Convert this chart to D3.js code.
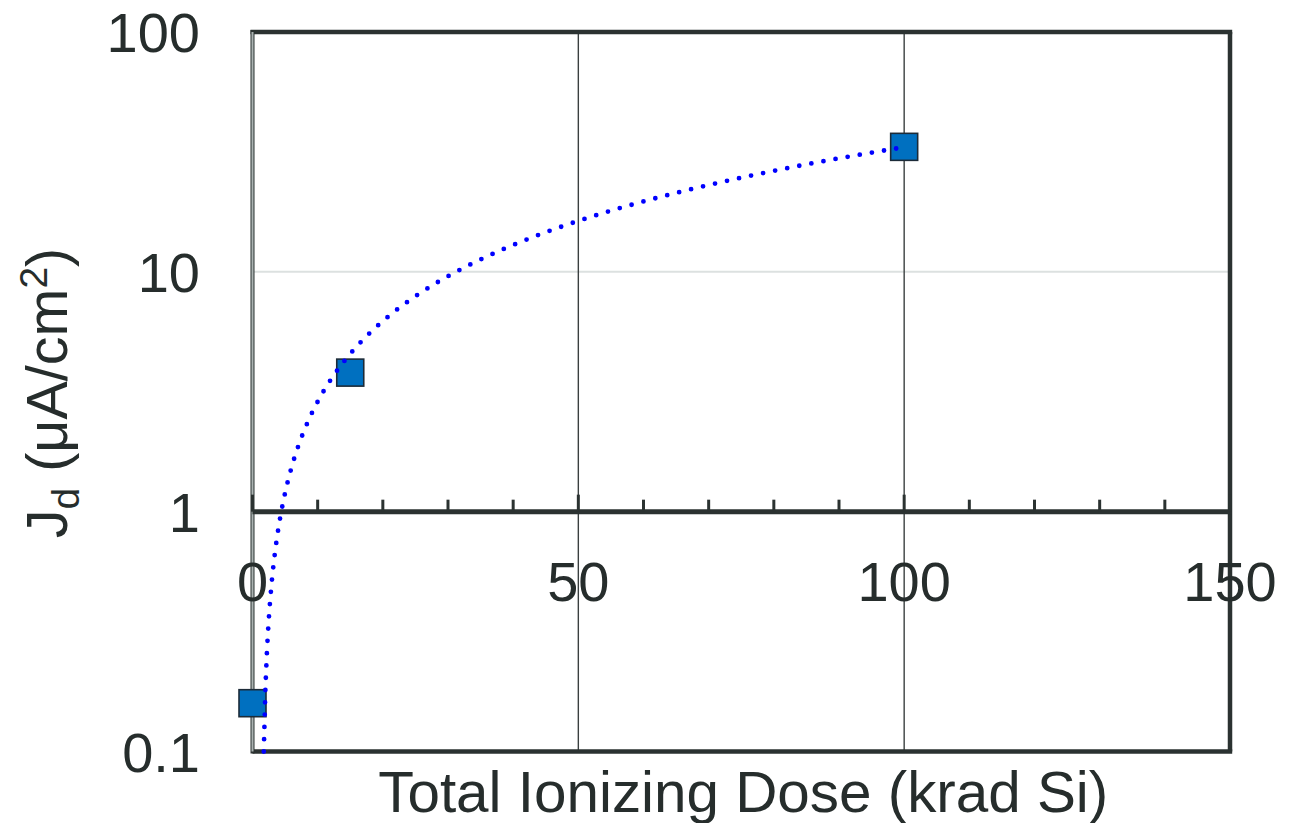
<!DOCTYPE html>
<meta charset="utf-8">
<style>
body {
  margin: 0;
  background: #fff;
}
text {
  font-family: "Liberation Sans", Arial, sans-serif;
  fill: #262d2c;
}
</style>
<body>
<script src="https://d3js.org/d3.v7.min.js"></script>
<script>
// measured points (dose in krad Si, Jd in uA/cm2)
var doses = [0, 15, 100],
    jd = [0.159, 3.8, 33.2];

var xTickLabels = [0, 50, 100, 150],
    yTickLabels = [0.1, 1, 10, 100];

var width = 1304,
    height = 823,
    plotLeft = 252.5,
    plotRight = 1230,
    plotTop = 32,
    plotBottom = 751.5,
    dark = "#2b3231";

var svg = d3.select("body").append("svg")
    .attr("width", width)
    .attr("height", height);

var x = d3.scaleLinear().domain([0, 150]).range([plotLeft, plotRight]);
var y = d3.scaleLog().domain([0.1, 100]).range([plotBottom, plotTop]);

// light horizontal gridline at 10
svg.append("line")
    .attr("x1", plotLeft).attr("x2", plotRight)
    .attr("y1", y(10)).attr("y2", y(10))
    .attr("stroke", "#dce1e0")
    .attr("stroke-width", 2);

// dark vertical gridlines
svg.selectAll(".vgrid")
    .data(xTickLabels.filter(function(d) { return d > 0 && d < 150; }))
  .enter().append("line")
    .attr("class", "vgrid")
    .attr("x1", function(d) { return x(d); })
    .attr("x2", function(d) { return x(d); })
    .attr("y1", plotTop).attr("y2", plotBottom)
    .attr("stroke", "#3a4040")
    .attr("stroke-width", 1.4);

// plot frame
svg.append("line")
    .attr("x1", plotLeft - 2).attr("x2", plotRight + 2.2)
    .attr("y1", plotTop).attr("y2", plotTop)
    .attr("stroke", dark).attr("stroke-width", 4.5);
svg.append("line")
    .attr("x1", plotRight).attr("x2", plotRight)
    .attr("y1", plotTop).attr("y2", plotBottom)
    .attr("stroke", dark).attr("stroke-width", 4.5);
svg.append("line")
    .attr("x1", plotLeft).attr("x2", plotRight + 2.2)
    .attr("y1", plotBottom).attr("y2", plotBottom)
    .attr("stroke", dark).attr("stroke-width", 4.5);
svg.append("line")
    .attr("x1", plotLeft).attr("x2", plotLeft)
    .attr("y1", plotTop - 2).attr("y2", plotBottom + 2)
    .attr("stroke", dark).attr("stroke-width", 4);
svg.append("line")
    .attr("x1", plotLeft).attr("x2", plotLeft)
    .attr("y1", plotTop).attr("y2", plotBottom)
    .attr("stroke", "#aab2b1").attr("stroke-width", 2);

// x axis crossing at y = 1
var axisY = y(1);
svg.append("line")
    .attr("x1", plotLeft).attr("x2", plotRight + 2)
    .attr("y1", axisY).attr("y2", axisY)
    .attr("stroke", dark).attr("stroke-width", 5);

svg.selectAll(".tick")
    .data(x.ticks(15))
  .enter().append("line")
    .attr("class", "tick")
    .attr("x1", function(d) { return x(d); })
    .attr("x2", function(d) { return x(d); })
    .attr("y1", axisY)
    .attr("y2", function(d) { return axisY - (d % 50 === 0 ? 17 : 12); })
    .attr("stroke", dark)
    .attr("stroke-width", 3);

svg.selectAll(".xlabel")
    .data(xTickLabels)
  .enter().append("text")
    .attr("class", "xlabel")
    .attr("x", function(d) { return x(d); })
    .attr("y", 601)
    .attr("text-anchor", "middle")
    .style("font-size", "56px")
    .text(function(d) { return d; });

svg.selectAll(".ylabel")
    .data(yTickLabels)
  .enter().append("text")
    .attr("class", "ylabel")
    .attr("x", 200)
    .attr("y", function(d) { return y(d) + 20; })
    .attr("text-anchor", "end")
    .style("font-size", "56px")
    .text(function(d) { return d; });

// markers
var points = doses.map(function(d, i) { return [d, jd[i]]; });
var s = 27;
svg.selectAll(".pt")
    .data(points)
  .enter().append("rect")
    .attr("class", "pt")
    .attr("x", function(d) { return x(d[0]) - s / 2; })
    .attr("y", function(d) { return y(d[1]) - s / 2; })
    .attr("width", s).attr("height", s)
    .attr("fill", "#0070c0")
    .attr("stroke", "#1c2b38")
    .attr("stroke-width", 1.6);

// linear least squares trendline of the measured points
var mx = d3.mean(doses), my = d3.mean(jd);
var slope = d3.sum(points, function(p) { return (p[0] - mx) * (p[1] - my); }) /
            d3.sum(points, function(p) { return (p[0] - mx) * (p[0] - mx); });
var icept = my - slope * mx;
var xStart = (0.1 - icept) / slope;
var trendX = d3.range(xStart, d3.max(doses), 0.25).concat([d3.max(doses)]);

svg.append("path")
    .datum(trendX)
    .attr("d", d3.line()
      .x(function(d) { return x(d); })
      .y(function(d) { return y(slope * d + icept); }))
    .attr("fill", "none")
    .attr("stroke", "#0000ff")
    .attr("stroke-width", 4.8)
    .attr("stroke-linecap", "round")
    .attr("stroke-dasharray", "0 12.3");

// axis titles
svg.append("text")
    .attr("x", (plotLeft + plotRight) / 2 + 2)
    .attr("y", 812)
    .attr("text-anchor", "middle")
    .attr("textLength", 730)
    .attr("lengthAdjust", "spacingAndGlyphs")
    .style("font-size", "57px")
    .text("Total Ionizing Dose (krad Si)");

var yt = svg.append("text")
    .attr("transform", "translate(67,393) rotate(-90)")
    .attr("text-anchor", "middle")
    .style("font-size", "57.5px");
yt.append("tspan").text("J");
yt.append("tspan").attr("dy", 12).style("font-size", "39px").text("d");
yt.append("tspan").attr("dy", -12).text(" (\u03bcA/cm");
yt.append("tspan").attr("dy", -20).style("font-size", "39px").text("2");
yt.append("tspan").attr("dy", 20).text(")");
</script>
</body>
